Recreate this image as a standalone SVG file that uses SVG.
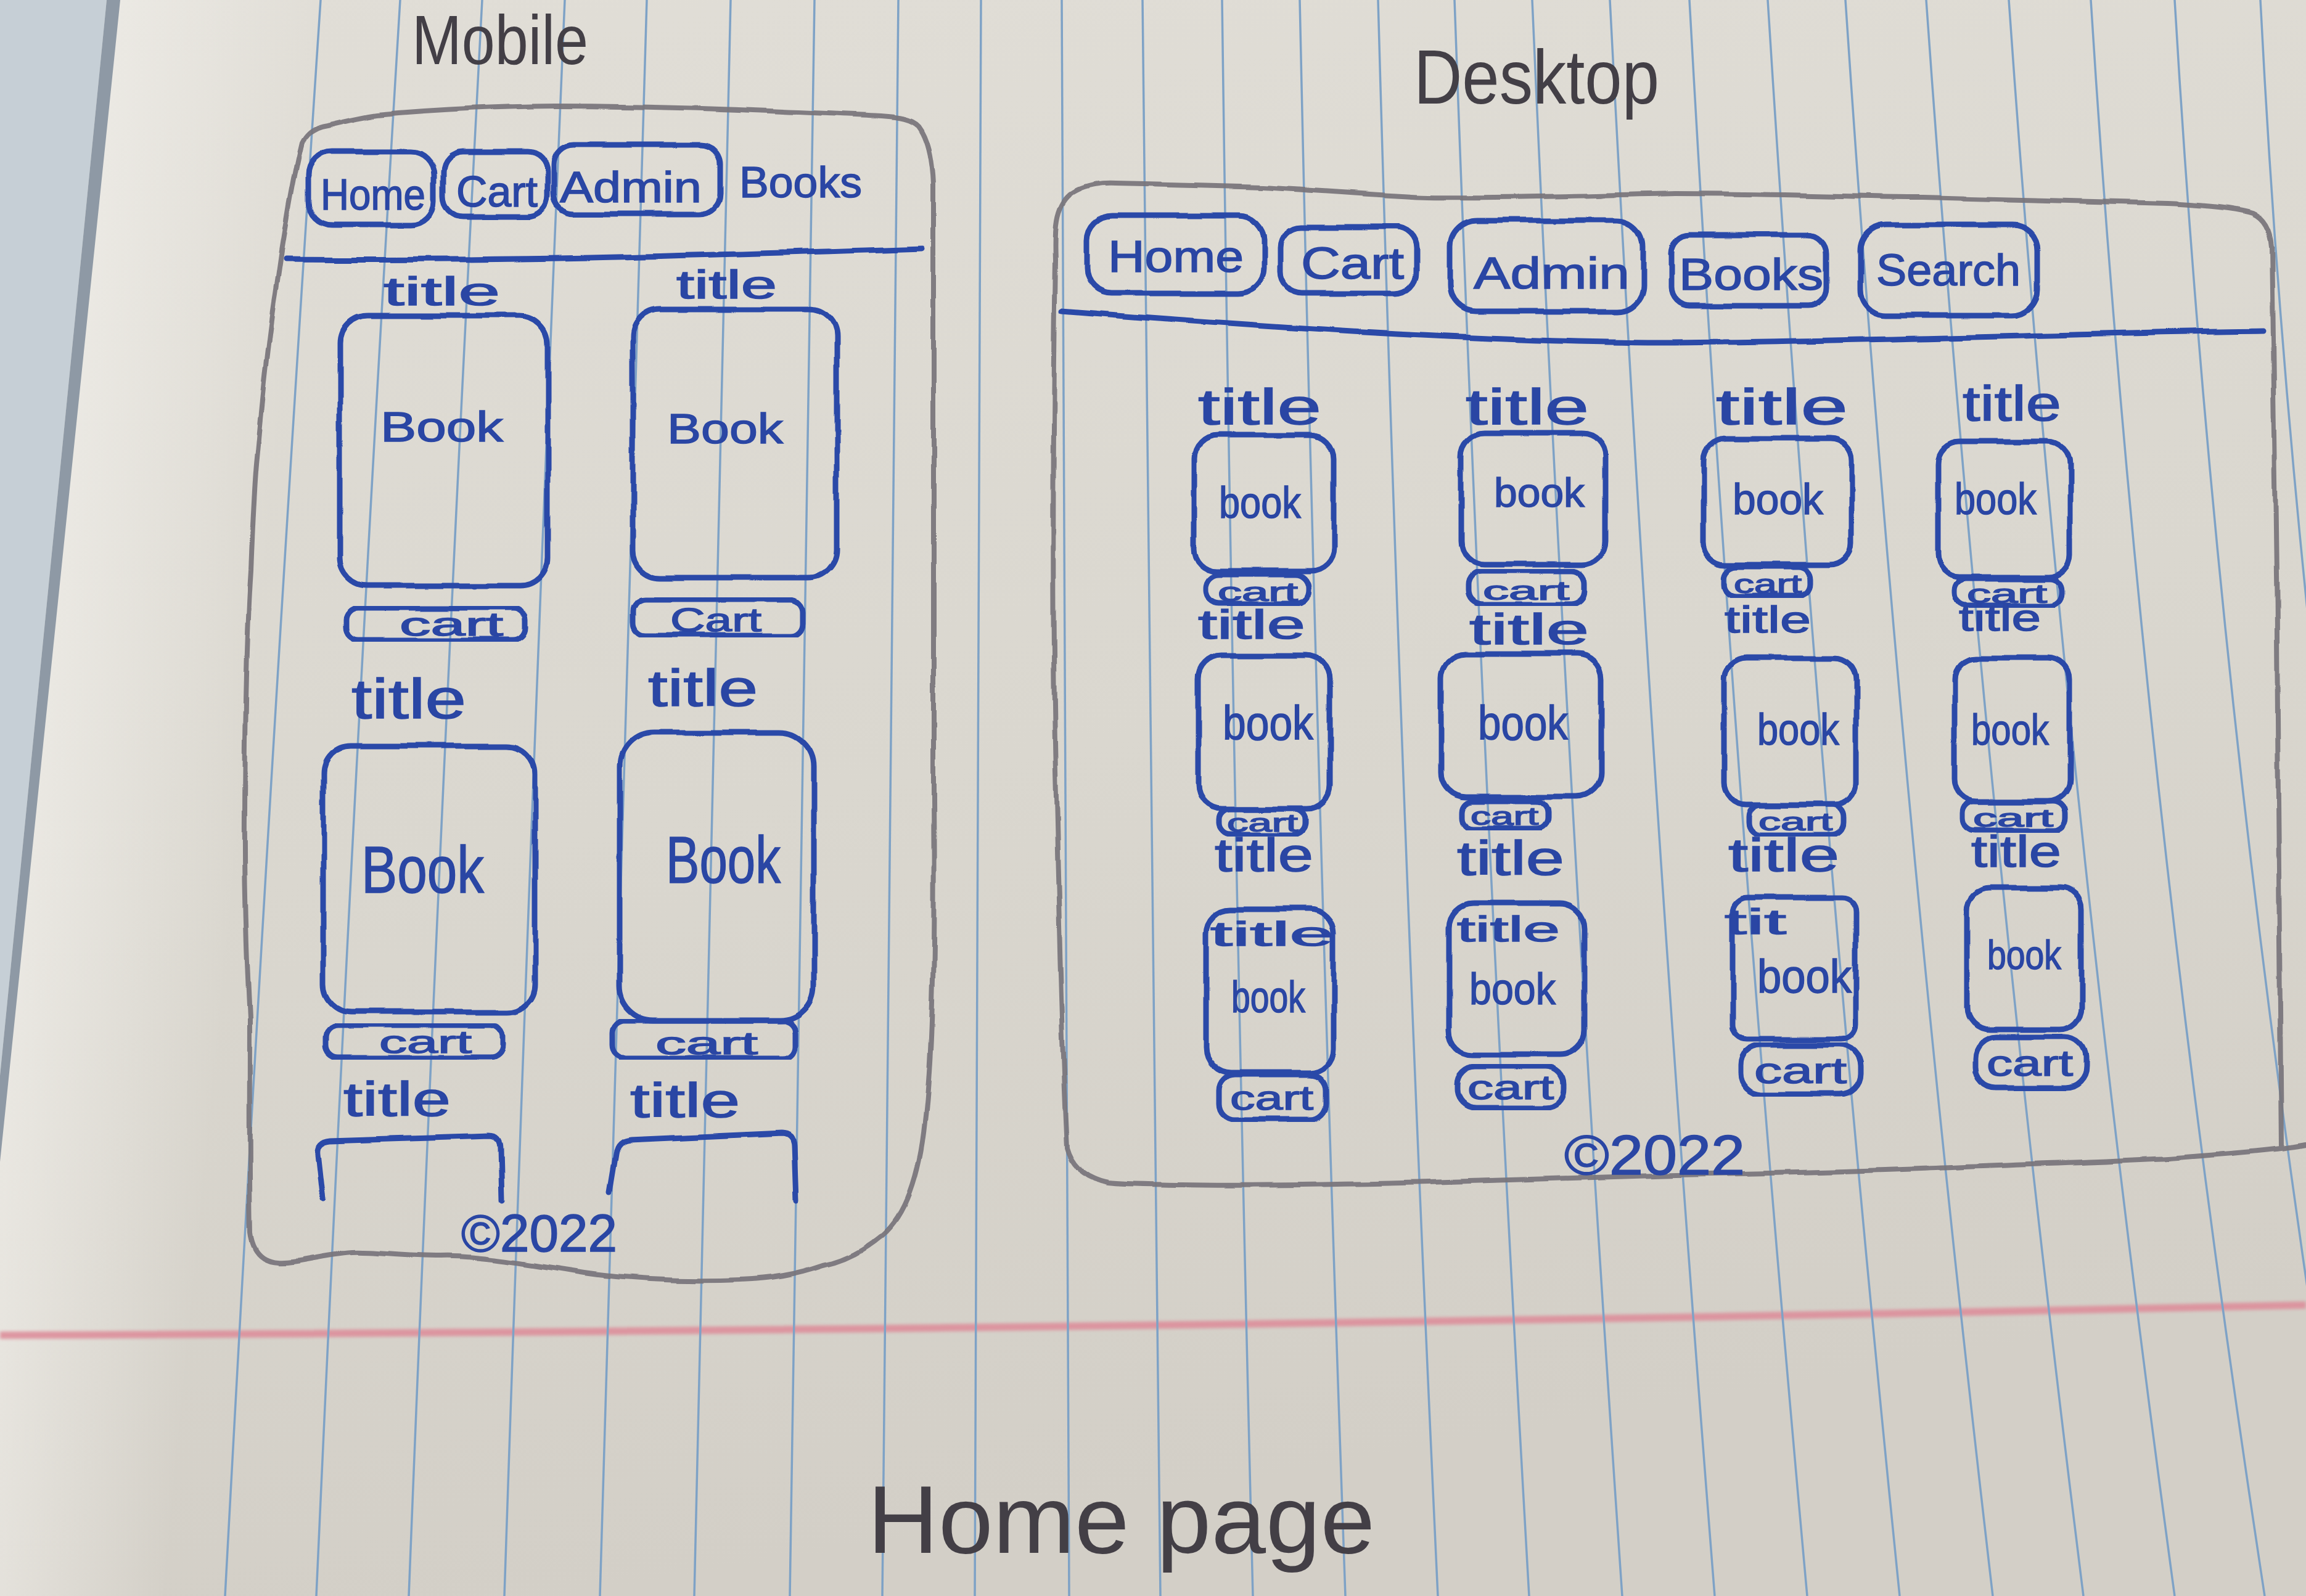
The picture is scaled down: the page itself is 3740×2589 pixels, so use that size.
<svg xmlns="http://www.w3.org/2000/svg" width="3740" height="2589" viewBox="0 0 3740 2589">
<defs>
  <linearGradient id="paper" x1="0" y1="0" x2="0.25" y2="1">
    <stop offset="0" stop-color="#e1ded7"/>
    <stop offset="0.55" stop-color="#dad7cf"/>
    <stop offset="1" stop-color="#d3cfc7"/>
  </linearGradient>
  <linearGradient id="edgeGlow" gradientUnits="userSpaceOnUse" x1="185" y1="0" x2="520" y2="33">
    <stop offset="0" stop-color="#efede8" stop-opacity="0.75"/>
    <stop offset="1" stop-color="#efede8" stop-opacity="0"/>
  </linearGradient>
  <filter id="rough" x="-5%" y="-5%" width="110%" height="110%">
    <feTurbulence type="fractalNoise" baseFrequency="0.012" numOctaves="2" seed="7" result="n"/>
    <feDisplacementMap in="SourceGraphic" in2="n" scale="9" xChannelSelector="R" yChannelSelector="G"/>
  </filter>
  <filter id="soft" x="-2%" y="-50%" width="104%" height="200%">
    <feGaussianBlur stdDeviation="2.5"/>
  </filter>
</defs>
<style>
  .rule{fill:none;stroke:#7ea2c6;stroke-width:3.5}
  .pen{fill:none;stroke:#2b48a8;stroke-width:9;stroke-linecap:round;stroke-linejoin:round}
  .pencil{fill:none;stroke:#78747b;stroke-width:8;stroke-linecap:round;stroke-linejoin:round;opacity:0.92}
  .ink{font-family:"Liberation Sans","DejaVu Sans",sans-serif;fill:#2a46a4;stroke:#2a46a4;stroke-width:1.5}
  .lead{font-family:"Liberation Sans","DejaVu Sans",sans-serif;fill:#433f46}
</style>

<!-- notebook sheet -->
<g id="sheet">
  <rect x="0" y="0" width="3740" height="2589" fill="url(#paper)"/>
  <polygon points="0,0 760,0 330,2589 0,2589" fill="url(#edgeGlow)"/>
  <polygon points="0,0 173,0 0,1745" fill="#c6cfd6"/>
  <polygon points="173,0 195,0 0,1885 0,1745" fill="#8e99a5"/>
  <path d="M0,2166 Q1870,2158 3740,2117" fill="none" stroke="#dd8f9b" stroke-width="12" opacity="0.9" filter="url(#soft)"/>
  <g id="ruling">
    <path class="rule" d="M520,0 Q436,1265 365,2589"/>
    <path class="rule" d="M649,0 Q572,1265 513,2589"/>
    <path class="rule" d="M782,0 Q715,1265 663,2589"/>
    <path class="rule" d="M916,0 Q862,1265 818,2589"/>
    <path class="rule" d="M1049,0 Q1008,1265 973,2589"/>
    <path class="rule" d="M1185,0 Q1157,1265 1126,2589"/>
    <path class="rule" d="M1321,0 Q1300,1265 1281,2589"/>
    <path class="rule" d="M1457,0 Q1445,1265 1431,2589"/>
    <path class="rule" d="M1591,0 Q1586,1265 1581,2589"/>
    <path class="rule" d="M1722,0 Q1727,1265 1734,2589"/>
    <path class="rule" d="M1853,0 Q1865,1265 1882,2589"/>
    <path class="rule" d="M1982,0 Q1999,1265 2032,2589"/>
    <path class="rule" d="M2108,0 Q2135,1265 2182,2589"/>
    <path class="rule" d="M2235,0 Q2270,1265 2332,2589"/>
    <path class="rule" d="M2359,0 Q2404,1265 2480,2589"/>
    <path class="rule" d="M2485,0 Q2540,1265 2631,2589"/>
    <path class="rule" d="M2611,0 Q2676,1265 2781,2589"/>
    <path class="rule" d="M2740,0 Q2810,1265 2931,2589"/>
    <path class="rule" d="M2867,0 Q2946,1265 3081,2589"/>
    <path class="rule" d="M2993,0 Q3077,1265 3232,2589"/>
    <path class="rule" d="M3124,0 Q3213,1265 3379,2589"/>
    <path class="rule" d="M3258,0 Q3346,1265 3527,2589"/>
    <path class="rule" d="M3391,0 Q3470,1265 3673,2589"/>
    <path class="rule" d="M3527,0 Q3601,1265 3820,2589"/>
    <path class="rule" d="M3666,0 Q3730,1265 3970,2589"/>
  </g>
</g>

<!-- headings -->
<g id="heading-mobile"><text class="lead" x="668" y="104" font-size="114" textLength="286" lengthAdjust="spacingAndGlyphs">Mobile</text></g>
<g id="heading-desktop"><text class="lead" x="2293" y="168" font-size="125" textLength="398" lengthAdjust="spacingAndGlyphs">Desktop</text></g>
<g id="heading-page"><text class="lead" x="1407" y="2519" font-size="155" textLength="823" lengthAdjust="spacingAndGlyphs">Home page</text></g>

<!-- device outlines (pencil) -->
<g id="mobile-frame" filter="url(#rough)">
  <path class="pencil" d="M490,231 C500,212 515,205 531,203 C560,196 590,189 612,186 C700,178 800,173 900,172 C1100,172 1300,182 1429,188 C1460,190 1478,193 1490,205 C1505,225 1512,255 1514,300 C1516,600 1512,1000 1514,1300 C1516,1500 1514,1700 1500,1820 C1490,1920 1465,1975 1432,2003 C1400,2030 1370,2045 1336,2052 C1290,2068 1250,2074 1200,2076 C1100,2080 1000,2074 930,2062 C820,2045 760,2036 716,2038 C650,2038 600,2030 573,2032 C520,2036 480,2050 450,2048 C425,2046 410,2030 406,2000 C404,1900 405,1700 405,1651 C400,1550 396,1450 397,1321 C398,1100 402,1000 407,925 C410,850 413,780 417,743 C428,620 440,520 447,479 C460,380 478,280 490,231 Z"/>
</g>
<g id="desktop-frame" filter="url(#rough)">
  <path class="pencil" d="M3740,1858 C3700,1866 3600,1874 3517,1880 C3400,1886 3250,1890 3117,1896 C2950,1902 2850,1904 2717,1906 C2550,1910 2420,1916 2317,1918 C2150,1922 2000,1924 1917,1922 C1860,1921 1820,1921 1797,1918 C1760,1910 1738,1890 1730,1861 C1722,1700 1718,1500 1712,1250 C1706,1000 1708,700 1712,420 C1710,370 1712,335 1735,315 C1755,300 1785,297 1810,298 C1900,300 2000,302 2050,304 C2150,310 2250,318 2317,320 C2450,322 2600,316 2717,314 C2900,314 3000,320 3117,320 C3300,324 3450,328 3517,330 C3580,333 3630,338 3654,346 C3675,355 3683,375 3685,400 C3690,600 3693,1000 3695,1300 C3697,1600 3698,1750 3700,1862"/>
</g>

<!-- header dividers -->
<g id="dividers" filter="url(#rough)">
  <path class="pen" d="M464,421 C800,424 1100,416 1495,403"/>
  <path class="pen" d="M1723,505 C2100,535 2450,556 2717,556 C3100,552 3400,540 3670,537"/>
</g>

<!-- mobile navigation -->
<g id="m-nav-home"><rect class="pen" x="500" y="246" width="204" height="119" rx="38" filter="url(#rough)"/><text class="ink" x="520" y="340" font-size="70" textLength="170" lengthAdjust="spacingAndGlyphs">Home</text></g>
<g id="m-nav-cart"><rect class="pen" x="719" y="246" width="169" height="105" rx="32" filter="url(#rough)"/><text class="ink" x="740" y="335" font-size="70" textLength="132" lengthAdjust="spacingAndGlyphs">Cart</text></g>
<g id="m-nav-admin"><rect class="pen" x="898" y="235" width="270" height="112" rx="32" filter="url(#rough)"/><text class="ink" x="908" y="328" font-size="70" textLength="230" lengthAdjust="spacingAndGlyphs">Admin</text></g>
<g id="m-nav-books"><text class="ink" x="1199" y="320" font-size="70" textLength="199" lengthAdjust="spacingAndGlyphs">Books</text></g>

<!-- mobile product cards -->
<g id="m-card-1">
  <text class="ink" x="622" y="495" font-size="64" textLength="189" lengthAdjust="spacingAndGlyphs">title</text>
  <rect class="pen" x="551" y="512" width="337" height="438" rx="45" filter="url(#rough)"/>
  <text class="ink" x="617" y="716" font-size="68" textLength="199" lengthAdjust="spacingAndGlyphs">Book</text>
  <rect class="pen" x="561" y="986" width="291" height="52" rx="20" filter="url(#rough)"/>
  <text class="ink" x="648" y="1031" font-size="54" textLength="168" lengthAdjust="spacingAndGlyphs">cart</text>
</g>
<g id="m-card-2">
  <text class="ink" x="1097" y="484" font-size="64" textLength="163" lengthAdjust="spacingAndGlyphs">title</text>
  <rect class="pen" x="1026" y="502" width="331" height="435" rx="45" filter="url(#rough)"/>
  <text class="ink" x="1082" y="719" font-size="68" textLength="188" lengthAdjust="spacingAndGlyphs">Book</text>
  <rect class="pen" x="1026" y="972" width="275" height="59" rx="20" filter="url(#rough)"/>
  <text class="ink" x="1087" y="1024" font-size="54" textLength="148" lengthAdjust="spacingAndGlyphs">Cart</text>
</g>
<g id="m-card-3">
  <text class="ink" x="570" y="1165" font-size="90" textLength="186" lengthAdjust="spacingAndGlyphs">title</text>
  <rect class="pen" x="524" y="1210" width="344" height="432" rx="45" filter="url(#rough)"/>
  <text class="ink" x="586" y="1448" font-size="108" textLength="199" lengthAdjust="spacingAndGlyphs">Book</text>
  <rect class="pen" x="528" y="1663" width="286" height="53" rx="20" filter="url(#rough)"/>
  <text class="ink" x="615" y="1708" font-size="52" textLength="150" lengthAdjust="spacingAndGlyphs">cart</text>
</g>
<g id="m-card-4">
  <text class="ink" x="1051" y="1145" font-size="84" textLength="178" lengthAdjust="spacingAndGlyphs">title</text>
  <rect class="pen" x="1005" y="1189" width="315" height="467" rx="55" filter="url(#rough)"/>
  <text class="ink" x="1080" y="1432" font-size="108" textLength="186" lengthAdjust="spacingAndGlyphs">Book</text>
  <rect class="pen" x="993" y="1656" width="298" height="60" rx="20" filter="url(#rough)"/>
  <text class="ink" x="1063" y="1710" font-size="52" textLength="166" lengthAdjust="spacingAndGlyphs">cart</text>
</g>
<g id="m-card-5">
  <text class="ink" x="557" y="1810" font-size="77" textLength="174" lengthAdjust="spacingAndGlyphs">title</text>
  <path class="pen" d="M524,1945 L516,1872 Q514,1852 536,1850 L794,1842 Q812,1842 812,1862 L814,1950" filter="url(#rough)"/>
</g>
<g id="m-card-6">
  <text class="ink" x="1022" y="1812" font-size="77" textLength="178" lengthAdjust="spacingAndGlyphs">title</text>
  <path class="pen" d="M988,1933 L998,1872 Q1001,1851 1022,1849 L1268,1838 Q1287,1838 1288,1858 L1291,1947" filter="url(#rough)"/>
</g>
<g id="m-footer"><text class="ink" x="748" y="2030" font-size="85" textLength="253" lengthAdjust="spacingAndGlyphs">©2022</text></g>

<!-- desktop navigation -->
<g id="d-nav-home"><rect class="pen" x="1763" y="349" width="287" height="127" rx="40" filter="url(#rough)"/><text class="ink" x="1797" y="441" font-size="72" textLength="220" lengthAdjust="spacingAndGlyphs">Home</text></g>
<g id="d-nav-cart"><rect class="pen" x="2077" y="368" width="220" height="108" rx="34" filter="url(#rough)"/><text class="ink" x="2110" y="452" font-size="72" textLength="167" lengthAdjust="spacingAndGlyphs">Cart</text></g>
<g id="d-nav-admin"><rect class="pen" x="2352" y="358" width="313" height="147" rx="42" filter="url(#rough)"/><text class="ink" x="2390" y="468" font-size="72" textLength="253" lengthAdjust="spacingAndGlyphs">Admin</text></g>
<g id="d-nav-books"><rect class="pen" x="2710" y="381" width="253" height="115" rx="30" filter="url(#rough)"/><text class="ink" x="2723" y="470" font-size="72" textLength="234" lengthAdjust="spacingAndGlyphs">Books</text></g>
<g id="d-nav-search"><rect class="pen" x="3017" y="365" width="288" height="147" rx="42" filter="url(#rough)"/><text class="ink" x="3043" y="463" font-size="72" textLength="234" lengthAdjust="spacingAndGlyphs">Search</text></g>

<!-- desktop product grid, row 1 -->
<g id="d-card-r1c1">
  <text class="ink" x="1943" y="688" font-size="82" textLength="200" lengthAdjust="spacingAndGlyphs">title</text>
  <rect class="pen" x="1937" y="706" width="226" height="220" rx="38" filter="url(#rough)"/>
  <text class="ink" x="1977" y="840" font-size="72" textLength="133" lengthAdjust="spacingAndGlyphs">book</text>
  <rect class="pen" x="1957" y="932" width="166" height="48" rx="22" filter="url(#rough)"/>
  <text class="ink" x="1975" y="975" font-size="42" textLength="130" lengthAdjust="spacingAndGlyphs">cart</text>
</g>
<g id="d-card-r1c2">
  <text class="ink" x="2377" y="688" font-size="82" textLength="200" lengthAdjust="spacingAndGlyphs">title</text>
  <rect class="pen" x="2370" y="703" width="233" height="213" rx="38" filter="url(#rough)"/>
  <text class="ink" x="2423" y="822" font-size="66" textLength="147" lengthAdjust="spacingAndGlyphs">book</text>
  <rect class="pen" x="2383" y="926" width="187" height="54" rx="22" filter="url(#rough)"/>
  <text class="ink" x="2405" y="973" font-size="42" textLength="140" lengthAdjust="spacingAndGlyphs">cart</text>
</g>
<g id="d-card-r1c3">
  <text class="ink" x="2783" y="688" font-size="82" textLength="214" lengthAdjust="spacingAndGlyphs">title</text>
  <rect class="pen" x="2763" y="712" width="240" height="204" rx="36" filter="url(#rough)"/>
  <text class="ink" x="2810" y="834" font-size="70" textLength="147" lengthAdjust="spacingAndGlyphs">book</text>
  <rect class="pen" x="2797" y="920" width="140" height="47" rx="20" filter="url(#rough)"/>
  <text class="ink" x="2812" y="962" font-size="42" textLength="110" lengthAdjust="spacingAndGlyphs">cart</text>
</g>
<g id="d-card-r1c4">
  <text class="ink" x="3183" y="682" font-size="80" textLength="160" lengthAdjust="spacingAndGlyphs">title</text>
  <rect class="pen" x="3143" y="716" width="214" height="220" rx="36" filter="url(#rough)"/>
  <text class="ink" x="3170" y="834" font-size="72" textLength="133" lengthAdjust="spacingAndGlyphs">book</text>
  <rect class="pen" x="3170" y="939" width="173" height="44" rx="20" filter="url(#rough)"/>
  <text class="ink" x="3190" y="978" font-size="42" textLength="130" lengthAdjust="spacingAndGlyphs">cart</text>
</g>

<!-- desktop product grid, row 2 -->
<g id="d-card-r2c1">
  <text class="ink" x="1943" y="1036" font-size="66" textLength="174" lengthAdjust="spacingAndGlyphs">title</text>
  <rect class="pen" x="1943" y="1064" width="214" height="248" rx="38" filter="url(#rough)"/>
  <text class="ink" x="1983" y="1200" font-size="78" textLength="147" lengthAdjust="spacingAndGlyphs">book</text>
  <rect class="pen" x="1977" y="1312" width="140" height="42" rx="18" filter="url(#rough)"/>
  <text class="ink" x="1990" y="1349" font-size="40" textLength="115" lengthAdjust="spacingAndGlyphs">cart</text>
</g>
<g id="d-card-r2c2">
  <text class="ink" x="2383" y="1045" font-size="70" textLength="194" lengthAdjust="spacingAndGlyphs">title</text>
  <rect class="pen" x="2337" y="1061" width="260" height="232" rx="40" filter="url(#rough)"/>
  <text class="ink" x="2397" y="1200" font-size="78" textLength="146" lengthAdjust="spacingAndGlyphs">book</text>
  <rect class="pen" x="2370" y="1300" width="140" height="44" rx="18" filter="url(#rough)"/>
  <text class="ink" x="2385" y="1338" font-size="40" textLength="110" lengthAdjust="spacingAndGlyphs">cart</text>
</g>
<g id="d-card-r2c3">
  <text class="ink" x="2797" y="1026" font-size="62" textLength="140" lengthAdjust="spacingAndGlyphs">title</text>
  <rect class="pen" x="2797" y="1067" width="213" height="239" rx="36" filter="url(#rough)"/>
  <text class="ink" x="2850" y="1208" font-size="72" textLength="133" lengthAdjust="spacingAndGlyphs">book</text>
  <rect class="pen" x="2837" y="1306" width="153" height="48" rx="20" filter="url(#rough)"/>
  <text class="ink" x="2852" y="1347" font-size="40" textLength="120" lengthAdjust="spacingAndGlyphs">cart</text>
</g>
<g id="d-card-r2c4">
  <text class="ink" x="3177" y="1023" font-size="62" textLength="133" lengthAdjust="spacingAndGlyphs">title</text>
  <rect class="pen" x="3170" y="1067" width="187" height="233" rx="36" filter="url(#rough)"/>
  <text class="ink" x="3197" y="1208" font-size="70" textLength="126" lengthAdjust="spacingAndGlyphs">book</text>
  <rect class="pen" x="3183" y="1300" width="167" height="48" rx="20" filter="url(#rough)"/>
  <text class="ink" x="3200" y="1341" font-size="40" textLength="130" lengthAdjust="spacingAndGlyphs">cart</text>
</g>

<!-- desktop product grid, row 3 -->
<g id="d-card-r3c1">
  <text class="ink" x="1970" y="1413" font-size="76" textLength="160" lengthAdjust="spacingAndGlyphs">title</text>
  <rect class="pen" x="1957" y="1475" width="206" height="265" rx="40" filter="url(#rough)"/>
  <text class="ink" x="1963" y="1534" font-size="56" textLength="200" lengthAdjust="spacingAndGlyphs">title</text>
  <text class="ink" x="1997" y="1642" font-size="72" textLength="120" lengthAdjust="spacingAndGlyphs">book</text>
  <rect class="pen" x="1977" y="1743" width="173" height="73" rx="26" filter="url(#rough)"/>
  <text class="ink" x="1995" y="1800" font-size="55" textLength="135" lengthAdjust="spacingAndGlyphs">cart</text>
</g>
<g id="d-card-r3c2">
  <text class="ink" x="2363" y="1419" font-size="78" textLength="174" lengthAdjust="spacingAndGlyphs">title</text>
  <rect class="pen" x="2350" y="1466" width="220" height="245" rx="40" filter="url(#rough)"/>
  <text class="ink" x="2363" y="1527" font-size="58" textLength="167" lengthAdjust="spacingAndGlyphs">title</text>
  <text class="ink" x="2383" y="1629" font-size="72" textLength="140" lengthAdjust="spacingAndGlyphs">book</text>
  <rect class="pen" x="2363" y="1730" width="174" height="67" rx="30" filter="url(#rough)"/>
  <text class="ink" x="2380" y="1783" font-size="55" textLength="140" lengthAdjust="spacingAndGlyphs">cart</text>
</g>
<g id="d-card-r3c3">
  <text class="ink" x="2803" y="1413" font-size="76" textLength="180" lengthAdjust="spacingAndGlyphs">title</text>
  <rect class="pen" x="2810" y="1456" width="200" height="230" rx="24" filter="url(#rough)"/>
  <text class="ink" x="2797" y="1515" font-size="58" textLength="100" lengthAdjust="spacingAndGlyphs">tit</text>
  <text class="ink" x="2850" y="1610" font-size="76" textLength="153" lengthAdjust="spacingAndGlyphs">book</text>
  <rect class="pen" x="2823" y="1695" width="194" height="80" rx="34" filter="url(#rough)"/>
  <text class="ink" x="2845" y="1757" font-size="60" textLength="150" lengthAdjust="spacingAndGlyphs">cart</text>
</g>
<g id="d-card-r3c4">
  <text class="ink" x="3197" y="1406" font-size="72" textLength="146" lengthAdjust="spacingAndGlyphs">title</text>
  <rect class="pen" x="3190" y="1440" width="187" height="230" rx="36" filter="url(#rough)"/>
  <text class="ink" x="3223" y="1572" font-size="66" textLength="120" lengthAdjust="spacingAndGlyphs">book</text>
  <rect class="pen" x="3203" y="1682" width="180" height="83" rx="34" filter="url(#rough)"/>
  <text class="ink" x="3222" y="1745" font-size="60" textLength="140" lengthAdjust="spacingAndGlyphs">cart</text>
</g>
<g id="d-footer"><text class="ink" x="2537" y="1905" font-size="90" textLength="293" lengthAdjust="spacingAndGlyphs">©2022</text></g>

<g id="connectors"/>
</svg>
